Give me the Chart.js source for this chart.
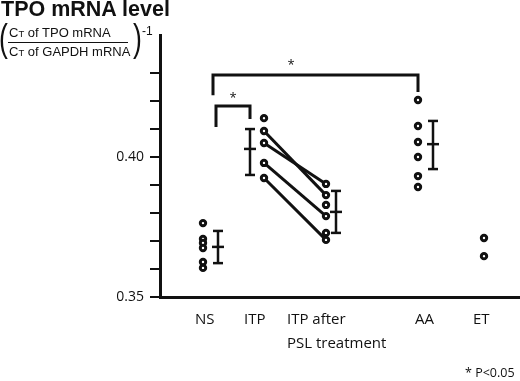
<!DOCTYPE html>
<html>
<head>
<meta charset="utf-8">
<script src="https://cdn.jsdelivr.net/npm/chart.js@4"></script>
<style>
  body { margin: 0; background: #fff; }
  #wrap { position: relative; width: 520px; height: 381px; color: #111; font-family: "Liberation Sans", Arial, sans-serif; }
  #chart { position: absolute; left: 0; top: 0; }
  .title { position: absolute; left: 1px; top: -3px; font-size: 21.5px; font-weight: bold; }
  .paren { position: absolute; top: 19px; font-size: 38px; line-height: 1; transform: scaleX(0.7); transform-origin: left top; }
  .frac { position: absolute; left: 9px; font-size: 13px; white-space: nowrap; }
  .frac small { font-size: 9.5px; }
  .fracline { position: absolute; left: 8px; top: 42px; width: 120px; border-top: 1px solid #111; }
  .sup { position: absolute; left: 142px; top: 24px; font-size: 12px; }
  .note { position: absolute; left: 465px; top: 364px; font-size: 12.5px; font-family: "Open Sans", sans-serif; }
</style>
</head>
<body>
<div id="wrap">
  <canvas id="chart" width="520" height="381"></canvas>
  <div class="title">TPO mRNA level</div>
  <div class="paren" style="left:-1px">(</div>
  <div class="frac" style="top:25px">C<small>T</small> of TPO mRNA</div>
  <div class="fracline"></div>
  <div class="frac" style="top:44px">C<small>T</small> of GAPDH mRNA</div>
  <div class="paren" style="left:133px">)</div>
  <div class="sup">-1</div>
  <div class="note">* P&lt;0.05</div>
</div>
<script>
// groups on the x axis and where each label starts
const categories = ['NS', 'ITP', ['ITP after', 'PSL treatment'], 'AA', 'ET'];
const labelX = [3.5, 8.4, 12.7, 25.5, 31.3];
const yTicks = [0.35, 0.36, 0.37, 0.38, 0.39, 0.40, 0.41, 0.42, 0.43];

// individual values
const nsValues  = [0.3764, 0.3707, 0.3693, 0.3675, 0.3625, 0.3604];
const itpValues = [0.4139, 0.4093, 0.4050, 0.3979, 0.3925];
const pslValues = [0.3904, 0.3864, 0.3829, 0.3789, 0.3729, 0.3704];
const aaValues  = [0.4204, 0.4111, 0.4054, 0.4000, 0.3932, 0.3893];
const etValues  = [0.3711, 0.3646];
const dotX = [4.3, 10.4, 16.6, 25.8, 32.4];

// paired patients, before / after PSL
const itpPaired = [0.4093, 0.4050, 0.3979, 0.3925];
const pslPaired = [0.3864, 0.3904, 0.3789, 0.3704];

// mean +/- SD
const errX      = [5.8, 9.0, 17.6, 27.3];
const errTop    = [0.3736, 0.4100, 0.3879, 0.4129];
const errMean   = [0.3679, 0.4029, 0.3804, 0.4046];
const errBottom = [0.3621, 0.3936, 0.3729, 0.3957];

// significance brackets
const bracketX1 = [5.3, 5.6];
const bracketX2 = [25.8, 9.0];
const bracketTop = [0.4293, 0.4182];
const bracketLeftEnd = [0.4221, 0.4107];
const bracketRightEnd = [0.4232, 0.4136];
const starX = [13.1, 7.3];
const starY = [0.4327, 0.4210];

const ink = '#111';
const datasets = [];

[nsValues, itpValues, pslValues, aaValues, etValues].forEach((vals, g) => {
  datasets.push({
    data: vals.map(v => ({ x: dotX[g], y: v })),
    pointRadius: 2.7, pointBorderWidth: 3,
    pointBackgroundColor: '#fff', pointBorderColor: ink,
    order: 1
  });
});

itpPaired.forEach((v, i) => {
  datasets.push({
    data: [{ x: dotX[1], y: v }, { x: dotX[2], y: pslPaired[i] }],
    showLine: true, borderColor: ink, borderWidth: 3, pointRadius: 0,
    order: 2
  });
});

errX.forEach((x, i) => {
  datasets.push({
    data: [{ x, y: errTop[i] }, { x, y: errMean[i] }, { x, y: errBottom[i] }],
    showLine: true, borderColor: ink, borderWidth: 2.5,
    pointStyle: 'line', pointRadius: [5, 6, 5], pointBorderWidth: 2.5, pointBorderColor: ink,
    order: 2
  });
});

bracketX1.forEach((x1, i) => {
  datasets.push({
    data: [
      { x: x1, y: bracketLeftEnd[i] }, { x: x1, y: bracketTop[i] },
      { x: bracketX2[i], y: bracketTop[i] }, { x: bracketX2[i], y: bracketRightEnd[i] }
    ],
    showLine: true, borderColor: ink, borderWidth: 3, pointRadius: 0,
    borderJoinStyle: 'miter', borderCapStyle: 'butt',
    order: 2
  });
});

const starPlugin = {
  id: 'stars',
  afterDatasetsDraw(chart) {
    const { ctx, scales } = chart;
    ctx.save();
    ctx.fillStyle = ink;
    ctx.font = '13px "Open Sans"';
    ctx.textAlign = 'center';
    ctx.textBaseline = 'middle';
    starX.forEach((v, i) => {
      ctx.fillText('*', scales.x.getPixelForValue(v), scales.y.getPixelForValue(starY[i]));
    });
    ctx.restore();
  }
};

new Chart(document.getElementById('chart'), {
  type: 'scatter',
  data: { datasets },
  options: {
    responsive: false,
    animation: false,
    layout: { padding: { top: 35, left: 0, right: 0, bottom: 0 }, autoPadding: false },
    plugins: { legend: { display: false }, tooltip: { enabled: false } },
    scales: {
      x: {
        type: 'linear', min: 0, max: 36,
        afterBuildTicks(scale) { scale.ticks = labelX.map(v => ({ value: v })); },
        afterFit(scale) { scale.height = 84; },
        grid: { display: false },
        border: { display: true, color: ink, width: 3 },
        ticks: {
          autoSkip: false, maxRotation: 0, align: 'start', padding: 3,
          color: ink, font: { family: 'Open Sans', size: 15, lineHeight: 1.6 },
          callback: (v, i) => categories[i]
        }
      },
      y: {
        type: 'linear', min: 0.35, max: 0.4436,
        afterBuildTicks(scale) { scale.ticks = yTicks.map(v => ({ value: v })); },
        afterFit(scale) { scale.width = 160; },
        grid: { drawOnChartArea: false, drawTicks: true, tickLength: 10, color: ink, lineWidth: 2 },
        border: { display: true, color: ink, width: 3 },
        ticks: {
          padding: 6, color: ink, font: { family: 'Open Sans', size: 14 },
          callback: (v, i) => (i === 0 ? '0.35' : i === 5 ? '0.40' : '')
        }
      }
    }
  },
  plugins: [starPlugin]
});
</script>
</body>
</html>
